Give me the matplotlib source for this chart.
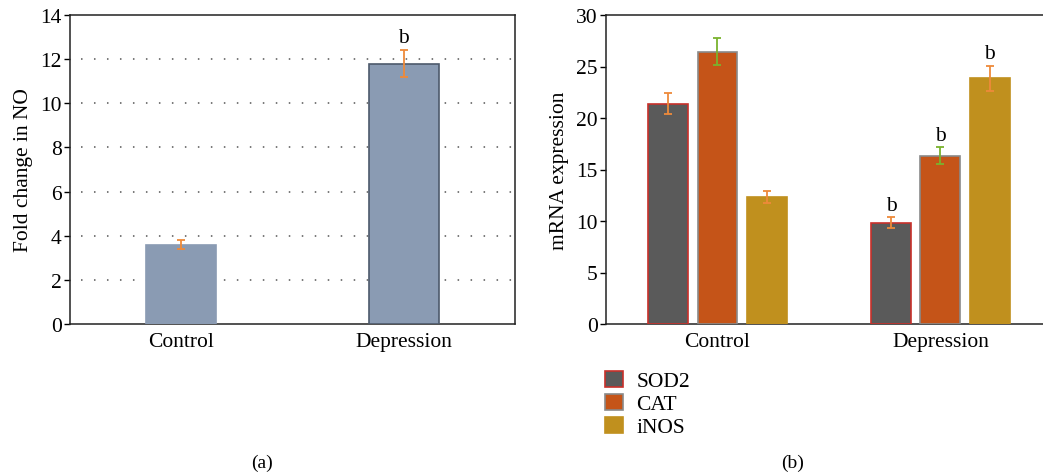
import matplotlib
matplotlib.use("Agg")
import matplotlib.pyplot as plt
import numpy as np
from matplotlib.patches import Patch

plt.rcParams['font.family'] = ['Liberation Serif', 'DejaVu Serif']

# Panel (a)
groups_a = ["Control", "Depression"]
no_fold = [3.6, 11.8]
no_err = [0.2, 0.6]
sig_a = ["", "b"]

# Panel (b)
groups_b = ["Control", "Depression"]
genes = ["SOD2", "CAT", "iNOS"]
sod2 = [21.4, 9.85]
cat = [26.45, 16.35]
inos = [12.35, 23.85]
sod2_err = [1.05, 0.5]
cat_err = [1.3, 0.8]
inos_err = [0.6, 1.2]
sig_b = {"SOD2": ["", "b"], "CAT": ["", "b"], "iNOS": ["", "b"]}

W, H = 1043, 477
fig = plt.figure(figsize=(W/100, H/100), dpi=100)

def ax_rect(l, t, r, b):
    return [l/W, 1 - b/H, (r-l)/W, (b-t)/H]

fs = 15.5

# ---- panel a
ax1 = fig.add_axes(ax_rect(70, 16, 515, 325))
x = np.arange(len(groups_a))
ax1.bar(x, no_fold, width=0.315, color="#8a9bb3",
        edgecolor=["#8a9bb3", "#4d5a6c"], linewidth=1.2, zorder=3)
ax1.errorbar(x, no_fold, yerr=no_err, fmt="none", ecolor="#ee8a3a",
             elinewidth=1.3, capsize=3, capthick=1.3, zorder=4)
for xi, v, e, s in zip(x, no_fold, no_err, sig_a):
    if s:
        ax1.text(xi, v + e + 0.15, s, ha="center", va="bottom", fontsize=fs)
ax1.set_xlim(-0.5, 1.5)
ax1.set_ylim(0, 14)
ax1.set_yticks(np.arange(0, 15, 2))
ax1.set_xticks(x)
ax1.set_xticklabels(groups_a, fontsize=fs)
ax1.tick_params(axis="x", length=0, pad=6)
ax1.tick_params(axis="y", labelsize=fs, length=4, width=1, pad=2)
for yv in np.arange(2, 14, 2):
    ax1.plot([-0.45, 1.5], [yv, yv], linestyle=(0, (1, 7.5)), color="#555555",
             linewidth=1.1, zorder=1)
ax1.set_ylabel("Fold change in NO", fontsize=fs, labelpad=5)
for sp in ax1.spines.values():
    sp.set_linewidth(1.1)
    sp.set_color("#222222")

# ---- panel b
ax2 = fig.add_axes(ax_rect(606, 16, 1043, 325))
xb = np.arange(len(groups_b))
bw = 0.179
step = 0.222
series = [(sod2, sod2_err, "#5a5a5a", "#c8302a", "#ee8a3a"),
          (cat, cat_err, "#c55418", "#8a8a8a", "#7ab32e"),
          (inos, inos_err, "#c0901e", "#c0901e", "#ee8a3a")]
handles = []
for i, (gname, (vals, errs, fc, ec, errc)) in enumerate(zip(genes, series)):
    pos = xb + (i - 1) * step
    ax2.bar(pos, vals, width=bw, color=fc, edgecolor=ec, linewidth=1.2, zorder=3)
    ax2.errorbar(pos, vals, yerr=errs, fmt="none", ecolor=errc,
                 elinewidth=1.3, capsize=3, capthick=1.3, zorder=4)
    for p, v, e, s in zip(pos, vals, errs, sig_b[gname]):
        if s:
            ax2.text(p, v + e + 0.25, s, ha="center", va="bottom", fontsize=fs)
    handles.append(Patch(facecolor=fc, edgecolor=ec, linewidth=1.2, label=gname))
ax2.set_xlim(-0.5, 1.46)
ax2.set_ylim(0, 30)
ax2.set_yticks(np.arange(0, 31, 5))
ax2.set_xticks(xb)
ax2.set_xticklabels(groups_b, fontsize=fs)
ax2.tick_params(axis="x", length=0, pad=6)
ax2.tick_params(axis="y", labelsize=fs, length=4, width=1, pad=2)
ax2.set_ylabel("mRNA expression", fontsize=fs, labelpad=5)
ax2.spines["right"].set_visible(False)
for sp in ax2.spines.values():
    sp.set_linewidth(1.1)
    sp.set_color("#222222")

fig.legend(handles=handles, loc="upper left", bbox_to_anchor=(605/W, 1 - 372/H),
           frameon=False, fontsize=fs, handlelength=0.85, handleheight=0.75,
           handletextpad=0.6, labelspacing=0.12, borderaxespad=0, borderpad=0)

fig.text(262/W, 1 - 463/H, "(a)", ha="center", va="center", fontsize=fs - 1.5)
fig.text(793/W, 1 - 463/H, "(b)", ha="center", va="center", fontsize=fs - 1.5)

fig.savefig("out.png", dpi=100)
